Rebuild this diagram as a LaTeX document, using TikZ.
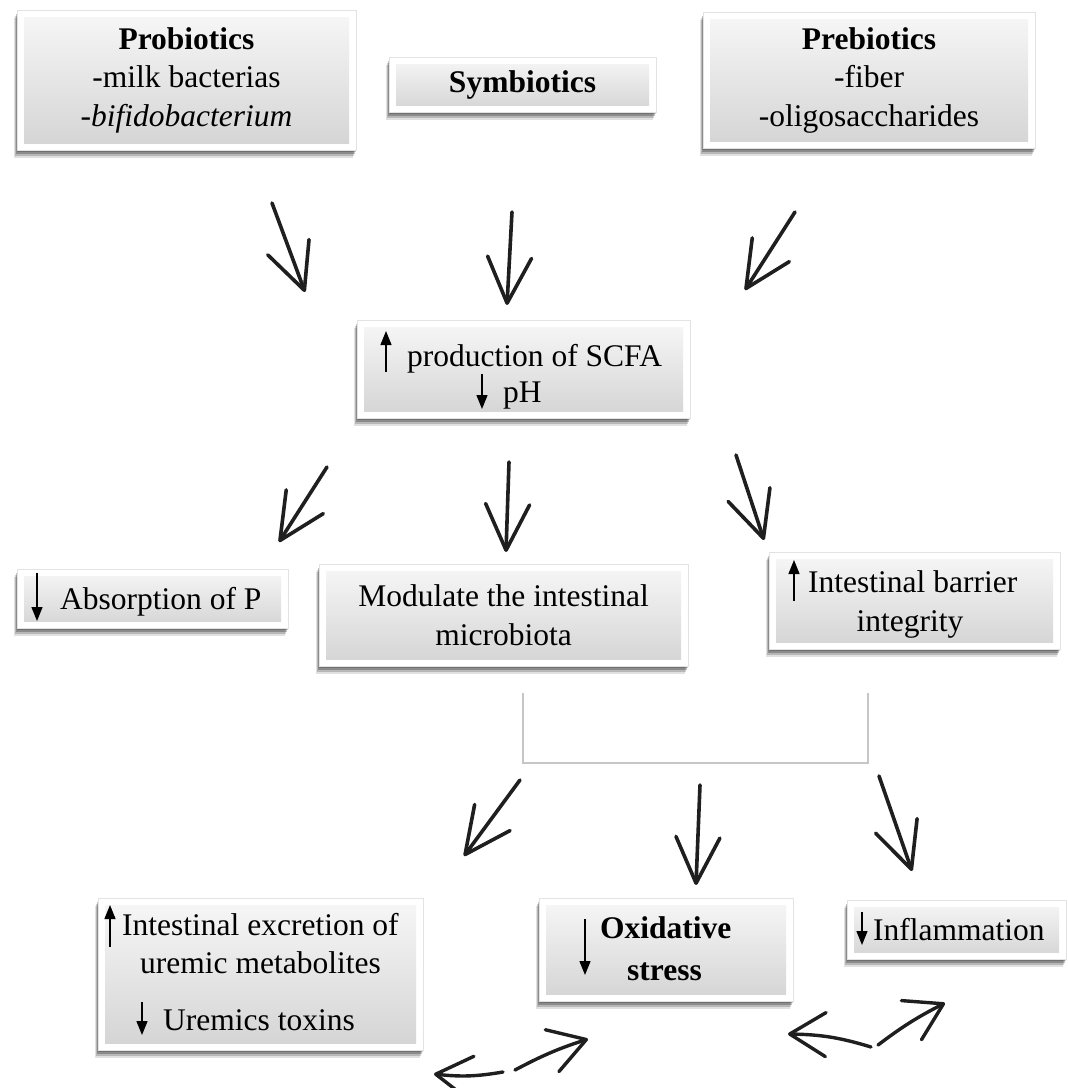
\documentclass[tikz,border=0pt]{standalone}
\usepackage{fontspec}
\setmainfont{Liberation Serif}
\usetikzlibrary{arrows.meta,shadows}
\newcommand\bodysize{\fontsize{31.5}{38.5}\selectfont}
\begin{document}
\begin{tikzpicture}[x=1pt,y=-1pt,
  box/.style={draw=gray!22, line width=0.6pt, fill=white,
    drop shadow={shadow xshift=-3.5pt, shadow yshift=-8pt, opacity=0.12, fill=black},
    drop shadow={shadow xshift=-2.5pt, shadow yshift=-6pt, opacity=0.18, fill=black},
    drop shadow={shadow xshift=-1.5pt, shadow yshift=-4pt, opacity=0.24, fill=black},
    drop shadow={shadow xshift=-0.5pt, shadow yshift=-1.5pt, opacity=0.2, fill=black},
    path picture={\shade[top color=gray!6, bottom color=gray!34]
      ([xshift=7pt,yshift=-7pt]path picture bounding box.north west) rectangle
      ([xshift=-7pt,yshift=7pt]path picture bounding box.south east);},
    inner sep=0pt, align=center, font=\bodysize},
  txt/.style={anchor=base west, inner sep=0pt, font=\bodysize},
  glyph/.style={line width=1.3pt, -{Triangle[length=14pt,width=11pt]}},
  hand/.style={line width=3.6pt, draw=black!88, line cap=round,
    -{Straight Barb[length=46pt,width=44pt,line width=3.6pt,round]}},
  handsmall/.style={line width=3.4pt, draw=black!88, line cap=round,
    -{Straight Barb[length=36pt,width=44pt,line width=3.4pt,round]}},
  bracket/.style={draw=gray!45, line width=2pt}
]
\useasboundingbox (0,0) rectangle (1068,1088);
\fill[white] (0,0) rectangle (1068,1088);

% ---- boxes ----
\node[box, minimum width=339pt, minimum height=140pt] (prob) at (186.5,80)
  {\textbf{Probiotics}\\-milk bacterias\\\textit{-bifidobacterium}};
\node[box, minimum width=267pt, minimum height=55pt] (sym) at (522.5,84.5)
  {\textbf{Symbiotics}};
\node[box, minimum width=332pt, minimum height=136pt] (preb) at (869,80)
  {\textbf{Prebiotics}\\-fiber\\-oligosaccharides};
\node[box, minimum width=333pt, minimum height=98pt] (scfa) at (523.5,369) {};
\node[box, minimum width=271pt, minimum height=59pt] (absp) at (152.5,598.5) {};
\node[box, minimum width=369pt, minimum height=102pt] (modu) at (503.5,615)
  {Modulate the intestinal\\microbiota};
\node[box, minimum width=291pt, minimum height=97pt] (barr) at (914.5,600.5) {};
\node[box, minimum width=325pt, minimum height=152pt] (excr) at (260.5,974) {};
\node[box, minimum width=254pt, minimum height=103pt] (oxid) at (666,949.5) {};
\node[box, minimum width=219pt, minimum height=59pt] (infl) at (956.5,929.5) {};

% ---- texts with arrow glyphs ----
\node[txt] (t1) at (407,366) {production of SCFA};
\node[txt] (t2) at (503,402) {pH};
\draw[glyph] (386,372) -- (386,331);
\draw[glyph] (482,374) -- (482,409);

\node[txt] (t3) at (60,609) {Absorption of P};
\draw[glyph] (37,573) -- (37,621);

\node[txt] (t4) at (808,592) {Intestinal barrier};
\node[txt, anchor=base] (t5) at (910,631) {integrity};
\draw[glyph] (794,601) -- (794,560);

\node[txt] (t6) at (122,935) {Intestinal excretion of};
\node[txt] (t7) at (140,973) {uremic metabolites};
\node[txt] (t8) at (163,1030) {Uremics toxins};
\draw[glyph] (110,947) -- (110,905);
\draw[glyph] (142,1002) -- (142,1035);

\node[txt] (t9) at (600,938) {\textbf{Oxidative}};
\node[txt] (t10) at (627,980) {\textbf{stress}};
\draw[glyph] (585,919) -- (585,975);

\node[txt] (t11) at (873,940) {Inflammation};
\draw[glyph] (862,912) -- (862,945);

% ---- hand-drawn arrows ----
\coordinate (a1s) at (272,203); \coordinate (a1e) at (305,292);
\coordinate (a2s) at (512,212); \coordinate (a2e) at (507,305);
\coordinate (a3s) at (795,212); \coordinate (a3e) at (745,290);
\coordinate (b1s) at (327,467); \coordinate (b1e) at (279,542);
\coordinate (b2s) at (509,462); \coordinate (b2e) at (506,552);
\coordinate (b3s) at (736,455); \coordinate (b3e) at (764,540);
\coordinate (c1s) at (520,780); \coordinate (c1e) at (464,856);
\coordinate (c2s) at (700,785); \coordinate (c2e) at (696,885);
\coordinate (c3s) at (879,776); \coordinate (c3e) at (912,871);
\coordinate (d1s) at (503,1072); \coordinate (d1e) at (434,1074);
\coordinate (d2s) at (515,1070); \coordinate (d2e) at (588,1039);
\coordinate (d3s) at (871,1047); \coordinate (d3e) at (788,1034);
\coordinate (d4s) at (878,1045); \coordinate (d4e) at (945,1003);
\foreach \p in {a1,a2,a3,b1,b2,b3,c1,c2,c3}
  \draw[hand] (\p s) -- (\p e);
\draw[handsmall] (d1s) to[bend left=8] (d1e);
\draw[handsmall] (d2s) to[bend left=5] (d2e);
\draw[handsmall] (d3s) to[bend right=8] (d3e);
\draw[handsmall] (d4s) to[bend left=5] (d4e);

% ---- bracket ----
\coordinate (brl) at (523,693);
\coordinate (brr) at (868,693);
\draw[bracket] (brl) -- ++(0,70) -| (brr);
\end{tikzpicture}
\end{document}
